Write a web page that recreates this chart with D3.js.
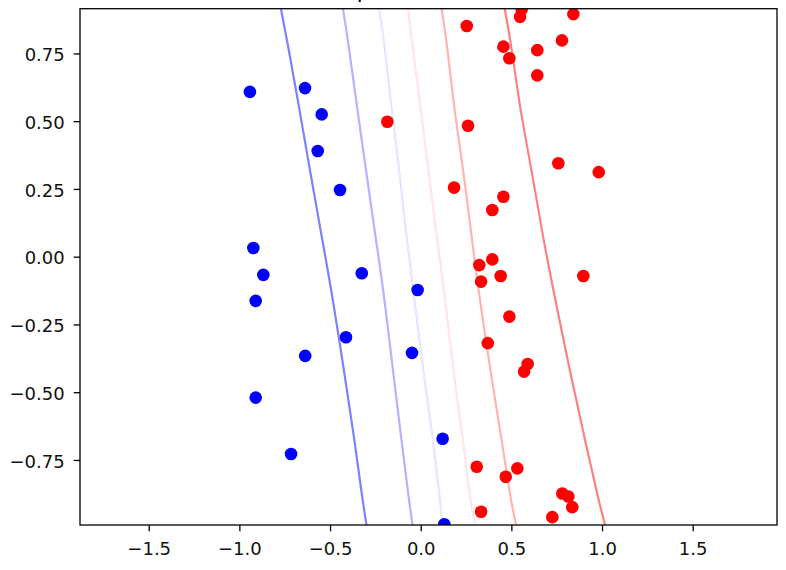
<!DOCTYPE html>
<html>
<head>
<meta charset="utf-8">
<script src="https://cdn.jsdelivr.net/npm/d3@7"></script>
<style>
  body { margin: 0; background: #ffffff; }
  svg { display: block; }
  text { font-family: "DejaVu Sans", sans-serif; }
</style>
</head>
<body>
<svg id="chart" width="786" height="570"></svg>
<script>
// ---------------- data ----------------
const titleText = "Separable dataset";
const xTicks = [-1.5, -1.0, -0.5, 0.0, 0.5, 1.0, 1.5];
const yTicks = [-0.75, -0.50, -0.25, 0.00, 0.25, 0.50, 0.75];
const xDomain = [-1.879, 1.965];
const yDomain = [-0.990, 0.915];

// class 0 (blue)
const blueX = [-0.942, -0.638, -0.546, -0.568, -0.445, -0.923, -0.868, -0.910, -0.325,
               -0.412, -0.637, -0.910, -0.715, -0.017, -0.048, 0.121, 0.130];
const blueY = [0.608, 0.622, 0.525, 0.390, 0.246, 0.032, -0.067, -0.163, -0.061,
               -0.297, -0.366, -0.520, -0.728, -0.123, -0.355, -0.672, -0.987];

// class 1 (red)
const redX = [0.557, 0.548, 0.842, 0.254, 0.456, 0.489, 0.643, 0.779, 0.643, -0.184,
              0.261, 0.759, 0.982, 0.184, 0.456, 0.395, 0.395, 0.323, 0.333, 0.441,
              0.897, 0.489, 0.370, 0.590, 0.570, 0.309, 0.533, 0.469, 0.781, 0.814,
              0.836, 0.333, 0.726];
const redY = [0.913, 0.885, 0.895, 0.851, 0.775, 0.732, 0.762, 0.798, 0.669, 0.498,
              0.483, 0.345, 0.312, 0.255, 0.221, 0.172, -0.010, -0.031, -0.092, -0.071,
              -0.071, -0.221, -0.319, -0.396, -0.424, -0.775, -0.781, -0.812, -0.874, -0.885,
              -0.924, -0.941, -0.961];

// contour lines (x read at these y values)
const contourY = [0.915, 0.799, 0.541, 0.320, 0.099, -0.123, -0.455, -0.676, -0.897, -0.990];
const contour1X = [-0.771, -0.737, -0.668, -0.611, -0.553, -0.492, -0.415, -0.365, -0.321, -0.299];
const contour2X = [-0.429, -0.401, -0.349, -0.302, -0.255, -0.205, -0.147, -0.106, -0.065, -0.045];
const contour3X = [-0.230, -0.202, -0.160, -0.118, -0.083, -0.041, 0.020, 0.069, 0.106, 0.121];
const contour4X = [-0.070, -0.050, 0.002, 0.042, 0.083, 0.130, 0.185, 0.235, 0.272, 0.300];
const contour5X = [0.115, 0.143, 0.185, 0.235, 0.276, 0.318, 0.392, 0.447, 0.496, 0.526];
const contour6X = [0.463, 0.496, 0.548, 0.612, 0.667, 0.731, 0.833, 0.906, 0.980, 1.017];

// ---------------- styles ----------------
const contourColors = ["#8080ff", "#b3b3ff", "#e6e6ff", "#ffe6e6", "#ffb3b3", "#ff8080"];
const blueColor = "#0000ff";
const redColor = "#ff0000";

// ---------------- layout ----------------
const W = 786, H = 570;
const plot = { left: 80, right: 777, top: 8.7, bottom: 525 };
const fontSize = 18;

const svg = d3.select("#chart");
svg.append("rect").attr("width", W).attr("height", H).attr("fill", "#fff");

const x = d3.scaleLinear().domain(xDomain).range([plot.left, plot.right]);
const y = d3.scaleLinear().domain(yDomain).range([plot.bottom, plot.top]);

svg.append("defs").append("clipPath").attr("id", "clip")
  .append("rect")
  .attr("x", plot.left).attr("y", plot.top)
  .attr("width", plot.right - plot.left).attr("height", plot.bottom - plot.top);

const g = svg.append("g").attr("clip-path", "url(#clip)");

// contour lines
const contours = [contour1X, contour2X, contour3X, contour4X, contour5X, contour6X];
const line = d3.line()
  .x(d => x(d[0]))
  .y(d => y(d[1]))
  .curve(d3.curveBasis);
contours.forEach((cx, i) => {
  const pts = cx.map((v, j) => [v, contourY[j]]);
  g.append("path")
    .attr("d", line(pts))
    .attr("fill", "none")
    .attr("stroke", contourColors[i])
    .attr("stroke-width", 2.2);
});

// points
const r = 6.3;
g.selectAll("circle.blue").data(d3.range(blueX.length)).join("circle")
  .attr("class", "blue")
  .attr("cx", i => x(blueX[i])).attr("cy", i => y(blueY[i]))
  .attr("r", r).attr("fill", blueColor);
g.selectAll("circle.red").data(d3.range(redX.length)).join("circle")
  .attr("class", "red")
  .attr("cx", i => x(redX[i])).attr("cy", i => y(redY[i]))
  .attr("r", r).attr("fill", redColor);

// axes
const tickLen = 6.3;
const xAxis = d3.axisBottom(x).tickValues(xTicks).tickSize(tickLen).tickPadding(10.5)
  .tickFormat(d3.format(".1f"));
const yAxis = d3.axisLeft(y).tickValues(yTicks).tickSize(tickLen).tickPadding(9)
  .tickFormat(d3.format(".2f"));

const gx = svg.append("g").attr("transform", `translate(0,${plot.bottom})`).call(xAxis);
const gy = svg.append("g").attr("transform", `translate(${plot.left},0)`).call(yAxis);
[gx, gy].forEach(a => {
  a.select(".domain").remove();
  a.selectAll(".tick line").attr("stroke", "#000").attr("stroke-width", 1.3);
  a.selectAll(".tick text").attr("fill", "#111")
    .style("font-size", fontSize + "px")
    .style("font-family", "'DejaVu Sans', sans-serif");
});
gy.selectAll(".tick text").attr("dy", "0.4em");

// spines
svg.append("rect")
  .attr("x", plot.left).attr("y", plot.top)
  .attr("width", plot.right - plot.left).attr("height", plot.bottom - plot.top)
  .attr("fill", "none").attr("stroke", "#000").attr("stroke-width", 1.3);

// title (mostly above the visible area, as in the reference)
svg.append("text")
  .attr("x", (plot.left + plot.right) / 2)
  .attr("y", -2.5)
  .attr("text-anchor", "middle")
  .style("font-size", "21.6px")
  .attr("fill", "#000")
  .text(titleText);
</script>
</body>
</html>
